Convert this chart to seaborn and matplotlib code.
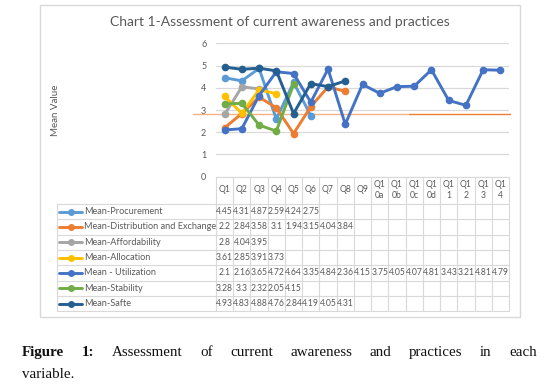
import matplotlib
matplotlib.use('Agg')
import matplotlib.pyplot as plt
import pandas as pd
import seaborn as sns

categories = ['Q1', 'Q2', 'Q3', 'Q4', 'Q5', 'Q6', 'Q7', 'Q8', 'Q9',
              'Q10a', 'Q10b', 'Q10c', 'Q10d', 'Q11', 'Q12', 'Q13', 'Q14']
header_labels = ['Q1', 'Q2', 'Q3', 'Q4', 'Q5', 'Q6', 'Q7', 'Q8', 'Q9',
                 'Q1\n0a', 'Q1\n0b', 'Q1\n0c', 'Q1\n0d', 'Q1\n1', 'Q1\n2', 'Q1\n3', 'Q1\n4']
series_names = ['Mean-Procurement', 'Mean-Distribution and Exchange', 'Mean-Affordability',
                'Mean-Allocation', 'Mean - Utilization', 'Mean-Stability', 'Mean-Safte']
procurement = [4.45, 4.31, 4.87, 2.59, 4.24, 2.75]
distribution = [2.2, 2.84, 3.58, 3.1, 1.94, 3.15, 4.04, 3.84]
affordability = [2.8, 4.04, 3.95]
allocation = [3.61, 2.85, 3.91, 3.73]
utilization = [2.1, 2.16, 3.65, 4.72, 4.64, 3.35, 4.84, 2.36, 4.15, 3.75, 4.05,
               4.07, 4.81, 3.43, 3.21, 4.81, 4.79]
stability = [3.28, 3.3, 2.32, 2.05, 4.15]
safte = [4.93, 4.83, 4.88, 4.76, 2.84, 4.19, 4.05, 4.31]
ref_line = 2.8

series_values = [procurement, distribution, affordability, allocation,
                 utilization, stability, safte]
colors = ['#5B9BD5', '#ED7D31', '#A5A5A5', '#FFC000', '#4472C4', '#70AD47', '#255E91']

rows = []
for name, vals in zip(series_names, series_values):
    for i, v in enumerate(vals):
        rows.append({'series': name, 'pos': i, 'value': v})
df = pd.DataFrame(rows)

sns.set_style('white')
plt.rcParams['font.family'] = ['Lato', 'DejaVu Sans']
txt_col = '#595959'
grid_col = '#D9D9D9'

W, H = 557, 386
fig = plt.figure(figsize=(W / 100, H / 100), dpi=100)

# overlay axes in pixel coordinates (box, table, caption)
ov = fig.add_axes([0, 0, 1, 1])
ov.set_xlim(0, W)
ov.set_ylim(H, 0)
ov.axis('off')

# plot area
x0, x1, y0, y1 = 216, 509, 176.7, 43.3
ax = fig.add_axes([x0 / W, 1 - y0 / H, (x1 - x0) / W, (y0 - y1) / H])
ax.set_facecolor('none')

sns.lineplot(data=df, x='pos', y='value', hue='series', hue_order=series_names,
             palette=colors, marker='o', markersize=5.5, markeredgewidth=0,
             linewidth=2.1, legend=False, sort=False, ax=ax)

ax.set_xlim(-0.5, len(categories) - 0.5)
ax.set_ylim(0, 6)
ax.set_yticks(range(7))
ax.set_xticks([])
ax.grid(axis='y', color=grid_col, linewidth=0.9)
ax.set_axisbelow(True)
for s in ['top', 'right', 'left']:
    ax.spines[s].set_visible(False)
ax.spines['bottom'].set_color(grid_col)
ax.tick_params(axis='y', length=0, pad=7, labelsize=6.5, labelcolor=txt_col)
ax.set_xlabel('')
ax.set_ylabel('Mean Value', fontsize=7, color=txt_col)
ax.yaxis.set_label_coords((60 - x0) / (x1 - x0), 0.5)

# orange reference line running past the left edge
ax.plot([-1.85, 10.7], [ref_line, ref_line], color='#F4B183', lw=1.0,
        clip_on=False, zorder=1)
ax.plot([10.7, 16.55], [ref_line, ref_line], color='#ED7D31', lw=1.0,
        clip_on=False, zorder=1)

# chart border and title
ov.add_patch(plt.Rectangle((40, 5), 480, 312, fill=False, ec=grid_col, lw=1))
ov.text(280, 22, 'Chart 1-Assessment of current awareness and practices',
        ha='center', va='center', fontsize=10, color=txt_col)

# data table
n = len(categories)
cw = (x1 - x0) / n
row_top = 204
rh = 15.33
nrows = len(series_names)
for k in range(n + 1):
    ov.plot([x0 + k * cw] * 2, [y0, row_top + nrows * rh], color=grid_col, lw=0.8)
ov.plot([57, 57], [row_top, row_top + nrows * rh], color=grid_col, lw=0.8)
for r in range(nrows + 1):
    ov.plot([57, x1], [row_top + r * rh] * 2, color=grid_col, lw=0.8)
for k, lab in enumerate(header_labels):
    ov.text(x0 + (k + 0.5) * cw, 190, lab, ha='center', va='center',
            fontsize=6.2, color=txt_col, linespacing=1.3)
for r, (name, vals, c) in enumerate(zip(series_names, series_values, colors)):
    yc = row_top + (r + 0.5) * rh
    ov.plot([59, 82], [yc, yc], color=c, lw=2.1)
    ov.plot([70.5], [yc], marker='o', color=c, markersize=5, markeredgewidth=0)
    ov.text(84, yc, name, ha='left', va='center', fontsize=6.6, color=txt_col)
    for k, v in enumerate(vals):
        ov.text(x0 + (k + 0.5) * cw, yc, f'{v:g}', ha='center', va='center',
                fontsize=6.2, color=txt_col)

# caption (justified first line)
cap_words = [('Figure', 'bold'), ('1:', 'bold'), ('Assessment', 'normal'), ('of', 'normal'),
             ('current', 'normal'), ('awareness', 'normal'), ('and', 'normal'),
             ('practices', 'normal'), ('in', 'normal'), ('each', 'normal')]
serif = ['Liberation Serif', 'DejaVu Serif']
cap_size = 10.8
texts = [ov.text(0, 356, w, ha='left', va='baseline', fontsize=cap_size, fontweight=fw,
                 family=serif, color='#111111') for w, fw in cap_words]
fig.canvas.draw()
r = fig.canvas.get_renderer()
widths = [t.get_window_extent(r).width for t in texts]
left, right = 22, 537
gap = (right - left - sum(widths)) / (len(texts) - 1)
x = left
for t, w in zip(texts, widths):
    t.set_x(x)
    x += w + gap
ov.text(left, 378, 'variable.', ha='left', va='baseline', fontsize=cap_size,
        family=serif, color='#111111')

fig.savefig('out.png', dpi=100)
